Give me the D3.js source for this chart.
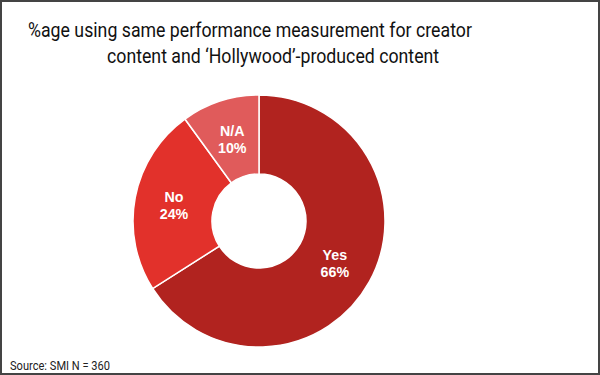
<!DOCTYPE html>
<html>
<head>
<meta charset="utf-8">
<script src="https://cdn.jsdelivr.net/npm/d3@7"></script>
<style>
  html, body { margin: 0; padding: 0; background: #fff; }
  svg { display: block; }
</style>
</head>
<body>
<svg id="chart" width="600" height="375"></svg>
<script>
const categories = ['Yes', 'No', 'N/A'];
const values = [66, 24, 10];
const colors = ['#b1231f', '#e2312b', '#e05b5b'];
const titleLines = ['%age using same performance measurement for creator', 'content and \u2018Hollywood\u2019-produced content'];
const sourceText = 'Source: SMI N = 360';

const width = 600, height = 375;
const cx = 259, cy = 221;
const outerR = 126, innerR = 47;

const svg = d3.select('#chart');

svg.append('rect')
    .attr('x', 1)
    .attr('y', 1)
    .attr('width', width - 2)
    .attr('height', height - 2)
    .attr('fill', '#fff')
    .attr('stroke', '#444')
    .attr('stroke-width', 2);

// text in the reference is narrower than the stock font, so squeeze it horizontally
const addText = (x, y, size, squeeze, txt, fill) => svg.append('text')
    .attr('transform', `translate(${x}, ${y}) scale(${squeeze}, 1)`)
    .attr('font-family', 'Roboto')
    .attr('font-size', size)
    .attr('fill', fill)
    .text(txt);

addText(28, 37, 20.5, 0.865, titleLines[0], '#111');
addText(107, 63, 20.5, 0.865, titleLines[1], '#111');
addText(10, 370, 12, 0.925, sourceText, '#222');

const data = categories.map((c, i) => ({ label: c, value: values[i], color: colors[i] }));

const pie = d3.pie()
    .value(d => d.value)
    .sort(null);

const arc = d3.arc()
    .innerRadius(innerR)
    .outerRadius(outerR);

const g = svg.append('g')
    .attr('transform', `translate(${cx}, ${cy})`);

const arcs = pie(data);

g.selectAll('path')
    .data(arcs)
    .enter()
        .append('path')
            .attr('d', arc)
            .attr('fill', d => d.data.color)
            .attr('stroke', '#fff')
            .attr('stroke-width', 1.5);

const labels = g.selectAll('.label')
    .data(arcs)
    .enter()
        .append('text')
            .attr('class', 'label')
            .attr('transform', d => `translate(${arc.centroid(d)}) scale(0.92, 1)`)
            .attr('text-anchor', 'middle')
            .attr('font-family', 'Liberation Sans, Arial, sans-serif')
            .attr('font-weight', 'bold')
            .attr('font-size', 15.5)
            .attr('fill', '#fff');

labels.append('tspan')
    .attr('x', 0)
    .attr('y', -3)
    .text(d => d.data.label);

labels.append('tspan')
    .attr('x', 0)
    .attr('y', 14)
    .text(d => `${d.data.value}%`);
</script>
</body>
</html>
